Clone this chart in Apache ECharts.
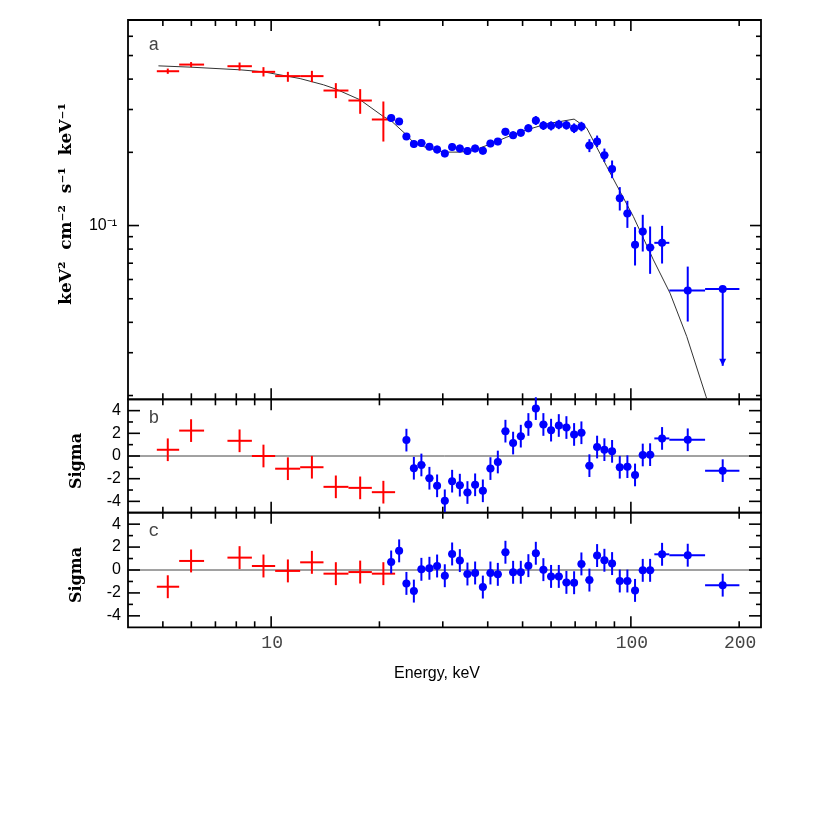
<!DOCTYPE html>
<html>
<head>
    <meta charset="utf-8">
    <title>Spectrum and residuals</title>
    <script src="https://cdn.jsdelivr.net/npm/echarts@6/dist/echarts.min.js"></script>
    <style>
        html, body { margin: 0; background: #fff; }
        #chart { width: 830px; height: 830px; }
    </style>
</head>
<body>
<div id="chart"></div>

<script>
    // axes
    const energyMin = 4.0, energyMax = 230;
    const energyMajorTicks = [10, 100];
    const energyMinorTicks = [5, 6, 7, 8, 9, 20, 30, 40, 50, 60, 70, 80, 90, 200];
    const energyTickValues = [10, 100, 200];
    const energyTickLabels = ['10', '100', '200'];

    const fluxMin = 0.0193, fluxMax = 0.70;
    const fluxMajorTicks = [0.1];
    const fluxMinorTicks = [0.02, 0.03, 0.04, 0.05, 0.06, 0.07, 0.08, 0.09, 0.2, 0.3, 0.4, 0.5, 0.6];
    const fluxTickValues = [0.1];
    const fluxTickLabels = ['10⁻¹'];

    const sigmaMin = -5, sigmaMax = 5;
    const sigmaMajorTicks = [-4, -2, 0, 2, 4];
    const sigmaMinorTicks = [-3, -1, 1, 3];
    const sigmaTickLabels = ['-4', '-2', '0', '2', '4'];

    // red (low energy) spectrum, keV
    const redE = [5.16, 5.99, 8.17, 9.52, 11.13, 12.98, 15.13, 17.68, 20.51];
    const redELo = [4.81, 5.55, 7.56, 8.84, 10.26, 12.04, 13.98, 16.40, 19.05];
    const redEHi = [5.55, 6.51, 8.84, 10.26, 12.04, 13.98, 16.40, 19.05, 22.11];
    const redFlux = [0.431, 0.459, 0.452, 0.4285, 0.4115, 0.4115, 0.359, 0.3266, 0.2729];
    const redFluxLo = [0.4205, 0.448, 0.434, 0.410, 0.390, 0.3887, 0.334, 0.288, 0.2215];
    const redFluxHi = [0.442, 0.470, 0.468, 0.448, 0.4285, 0.4326, 0.385, 0.3638, 0.3236];
    const redSigmaB = [0.55, 2.24, 1.34, 0.0, -1.12, -0.99, -2.72, -2.81, -3.19];
    const redSigmaC = [-1.46, 0.79, 1.08, 0.35, -0.08, 0.67, -0.32, -0.18, -0.32];

    // blue (high energy) spectrum, keV; bins are contiguous
    const blueEdges = [21.04, 22.11, 23.23, 24.34, 25.54, 26.85, 28.24, 29.65, 31.10, 32.63,
        34.28, 36.01, 37.81, 39.72, 41.69, 43.71, 45.92, 48.21, 50.65, 53.14,
        55.77, 58.59, 61.51, 64.62, 67.88, 71.17, 74.73, 78.61, 82.48, 86.54,
        90.86, 95.44, 100.3, 105.2, 110.4, 116.2, 127.9, 160.8, 200.3];
    const blueE = [21.56, 22.69, 23.77, 24.93, 26.16, 27.54, 28.93, 30.39, 31.85, 33.46,
        35.13, 36.90, 38.77, 40.70, 42.67, 44.80, 47.06, 49.43, 51.89, 54.42,
        57.12, 60.00, 63.04, 66.19, 69.53, 72.86, 76.69, 80.56, 84.41, 88.67,
        93.14, 97.79, 102.7, 107.9, 113.1, 122.1, 143.9, 180.0];
    const blueFlux = [0.2765, 0.2677, 0.2323, 0.2162, 0.2183, 0.2107, 0.2054, 0.1977, 0.2101, 0.2073,
        0.2023, 0.2073, 0.2029, 0.2174, 0.2215, 0.2428, 0.2353, 0.2405, 0.2514, 0.2703,
        0.2577, 0.2570, 0.2602, 0.2587, 0.2514, 0.2553, 0.2133, 0.2215, 0.1947, 0.1706,
        0.1296, 0.1120, 0.0833, 0.0945, 0.0812, 0.0849, 0.0540, 0.0548];
    const blueFluxLo = [0.267, 0.259, 0.225, 0.209, 0.211, 0.204, 0.198, 0.191, 0.203, 0.200,
        0.195, 0.200, 0.196, 0.210, 0.214, 0.234, 0.227, 0.232, 0.242, 0.259,
        0.247, 0.246, 0.249, 0.248, 0.240, 0.244, 0.2004, 0.2101, 0.1827, 0.1566,
        0.1153, 0.0978, 0.0685, 0.0782, 0.0633, 0.0698, 0.0403, 0.0265];
    const blueFluxHi = [0.286, 0.277, 0.240, 0.224, 0.226, 0.218, 0.213, 0.205, 0.218, 0.215,
        0.210, 0.215, 0.210, 0.225, 0.229, 0.252, 0.244, 0.249, 0.261, 0.282,
        0.269, 0.268, 0.272, 0.270, 0.263, 0.267, 0.2265, 0.2344, 0.2073, 0.1851,
        0.1439, 0.1264, 0.0985, 0.1107, 0.0991, 0.0997, 0.0678, 0.0548];
    const blueUpperLimits = [37]; // index of points drawn as upper limits
    const blueSigmaB = [null, null, 1.40, -1.08, -0.79, -1.96, -2.63, -3.95, -2.22, -2.57,
        -3.22, -2.54, -3.07, -1.11, -0.53, 2.19, 1.14, 1.75, 2.78, 4.18,
        2.78, 2.28, 2.69, 2.51, 1.90, 2.05, -0.85, 0.79, 0.56, 0.41,
        -0.99, -0.94, -1.67, 0.09, 0.12, 1.55, 1.43, -1.29];
    const blueSigmaC = [0.70, 1.67, -1.17, -1.84, 0.06, 0.15, 0.35, -0.50, 1.40, 0.82,
        -0.35, -0.26, -1.49, -0.26, -0.38, 1.55, -0.20, -0.20, 0.38, 1.46,
        0.03, -0.56, -0.56, -1.08, -1.11, 0.53, -0.88, 1.26, 0.85, 0.56,
        -0.96, -0.96, -1.78, -0.03, -0.03, 1.37, 1.29, -1.32];

    // model curve
    const modelE = [4.86, 5.955, 8.20, 9.52, 12.04, 13.98, 15.13, 17.68, 20.51, 21.56,
        23.77, 24.86, 26.51, 28.88, 30.45, 33.52, 36.50, 40.62, 45.20, 51.37,
        58.40, 69.53, 75.42, 85.70, 101.6, 115.5, 128.5, 143.0, 161.8, 172.6];
    const modelFlux = [0.4535, 0.448, 0.4368, 0.4285, 0.402, 0.379, 0.364, 0.3287, 0.2807, 0.2695,
        0.236, 0.2195, 0.2113, 0.2035, 0.2004, 0.2004, 0.2035, 0.2162, 0.2309, 0.2474,
        0.2619, 0.2739, 0.2514, 0.1748, 0.1089, 0.0723, 0.0527, 0.03497, 0.01981, 0.01473];

    const RED = '#ff0000';
    const BLUE = '#0000ff';
    const panelLetters = ['a', 'b', 'c'];

    const seg = (ax, ay, bx, by, color, w) => ({
        type: 'line',
        shape: { x1: ax, y1: ay, x2: bx, y2: by },
        style: { stroke: color, lineWidth: w }
    });

    // frame ticks, tick labels and panel letter for one panel
    const frameRenderer = (panel, yRef, yMajor, yMinor, yMajorLen, labelValues, labels, labelGap) =>
        (params, api) => {
            const cs = params.coordSys;
            const x0 = cs.x, x1 = cs.x + cs.width, y0 = cs.y, y1 = cs.y + cs.height;
            const kids = [];
            const tickX = (v, len) => {
                const x = api.coord([v, yRef])[0];
                kids.push(seg(x, y0, x, y0 + len, '#000', 1.6), seg(x, y1, x, y1 - len, '#000', 1.6));
            };
            const tickY = (v, len) => {
                const y = api.coord([energyMin, v])[1];
                kids.push(seg(x0, y, x0 + len, y, '#000', 1.6), seg(x1, y, x1 - len, y, '#000', 1.6));
            };
            energyMajorTicks.forEach(v => tickX(v, 11));
            energyMinorTicks.forEach(v => tickX(v, 6));
            yMajor.forEach(v => tickY(v, yMajorLen));
            yMinor.forEach(v => tickY(v, 5));
            labelValues.forEach((v, i) => {
                kids.push({
                    type: 'text', x: x0 - labelGap, y: api.coord([energyMin, v])[1],
                    style: { text: labels[i], font: '16px "Liberation Sans"', fill: '#000', align: 'right', verticalAlign: 'middle' }
                });
            });
            if (panel === 2) {
                energyTickValues.forEach((v, i) => {
                    kids.push({
                        type: 'text', x: api.coord([v, yRef])[0] + 1, y: y1 + 16,
                        style: { text: energyTickLabels[i], font: '18px "Liberation Mono"', fill: '#444', align: 'center', verticalAlign: 'middle' }
                    });
                });
            }
            kids.push({
                type: 'text', x: x0 + 26, y: y0 + (panel === 0 ? 25 : 19),
                style: { text: panelLetters[panel], font: '18px "Liberation Mono"', fill: '#444', align: 'center', verticalAlign: 'middle' }
            });
            return { type: 'group', children: kids };
        };

    // red cross in flux panel: [eLo, eHi, e, flux, fluxLo, fluxHi]
    const redCross = (params, api) => {
        const a = api.coord([api.value(0), api.value(3)]);
        const b = api.coord([api.value(1), api.value(3)]);
        const c = api.coord([api.value(2), api.value(4)]);
        const d = api.coord([api.value(2), api.value(5)]);
        return {
            type: 'group',
            children: [seg(a[0], a[1], b[0], b[1], RED, 2), seg(c[0], c[1], d[0], d[1], RED, 2)]
        };
    };

    // blue point in flux panel: [eLo, eHi, e, flux, fluxLo, fluxHi, upperLimit]
    const bluePoint = (params, api) => {
        const a = api.coord([api.value(0), api.value(3)]);
        const b = api.coord([api.value(1), api.value(3)]);
        const c = api.coord([api.value(2), api.value(4)]);
        const d = api.coord([api.value(2), api.value(5)]);
        const p = api.coord([api.value(2), api.value(3)]);
        const kids = [
            seg(a[0], a[1], b[0], b[1], BLUE, 2),
            seg(c[0], c[1], d[0], d[1], BLUE, 2),
            { type: 'circle', shape: { cx: p[0], cy: p[1], r: 4 }, style: { fill: BLUE } }
        ];
        if (api.value(6)) {
            kids.push({
                type: 'polygon',
                shape: { points: [[c[0] - 3.5, c[1] - 7], [c[0] + 3.5, c[1] - 7], [c[0], c[1]]] },
                style: { fill: BLUE }
            });
        }
        return { type: 'group', children: kids };
    };

    // residual with +-1 sigma bar: [eLo, eHi, e, sigma]
    const residual = (color, dot) => (params, api) => {
        const s = api.value(3);
        const a = api.coord([api.value(0), s]);
        const b = api.coord([api.value(1), s]);
        const c = api.coord([api.value(2), s - 1]);
        const d = api.coord([api.value(2), s + 1]);
        const p = api.coord([api.value(2), s]);
        const kids = [seg(a[0], a[1], b[0], b[1], color, 2), seg(c[0], c[1], d[0], d[1], color, 2)];
        if (dot) {
            kids.push({ type: 'circle', shape: { cx: p[0], cy: p[1], r: 4 }, style: { fill: color } });
        }
        return { type: 'group', children: kids };
    };

    const redFluxData = redE.map((e, i) => [redELo[i], redEHi[i], e, redFlux[i], redFluxLo[i], redFluxHi[i]]);
    const blueFluxData = blueE.map((e, i) => [blueEdges[i], blueEdges[i + 1], e, blueFlux[i],
        blueFluxLo[i], blueFluxHi[i], blueUpperLimits.includes(i) ? 1 : 0]);
    const redRes = sig => redE.map((e, i) => [redELo[i], redEHi[i], e, sig[i]]);
    const blueRes = sig => blueE.map((e, i) => [blueEdges[i], blueEdges[i + 1], e, sig[i]])
        .filter(d => d[3] !== null);

    const titleFont = 'bold 16px "DejaVu Serif"';
    const chart = echarts.init(document.getElementById('chart'));
    const gridStyle = { left: 128, width: 633, show: true, borderColor: '#000', borderWidth: 1.8, backgroundColor: 'transparent' };
    const option = {
        animation: false,
        backgroundColor: '#fff',
        grid: [
            Object.assign({ top: 20, height: 379.3 }, gridStyle),
            Object.assign({ top: 399.3, height: 113.4 }, gridStyle),
            Object.assign({ top: 512.7, height: 114.6 }, gridStyle)
        ],
        xAxis: [0, 1, 2].map(i => ({ type: 'log', gridIndex: i, min: energyMin, max: energyMax, show: false })),
        yAxis: [
            { type: 'log', gridIndex: 0, min: fluxMin, max: fluxMax, show: false },
            { type: 'value', gridIndex: 1, min: sigmaMin, max: sigmaMax, show: false },
            { type: 'value', gridIndex: 2, min: sigmaMin, max: sigmaMax, show: false }
        ],
        graphic: [
            {
                type: 'text', x: 67, y: 204, rotation: Math.PI / 2,
                style: { text: 'keV²  cm⁻²  s⁻¹  keV⁻¹', font: 'bold 17px "DejaVu Serif"', fill: '#000', align: 'center', verticalAlign: 'middle' }
            },
            {
                type: 'text', x: 77, y: 461, rotation: Math.PI / 2,
                style: { text: 'Sigma', font: titleFont, fill: '#000', align: 'center', verticalAlign: 'middle' }
            },
            {
                type: 'text', x: 77, y: 575, rotation: Math.PI / 2,
                style: { text: 'Sigma', font: titleFont, fill: '#000', align: 'center', verticalAlign: 'middle' }
            },
            {
                type: 'text', x: 437, y: 674,
                style: { text: 'Energy, keV', font: '16px "Liberation Sans"', fill: '#000', align: 'center', verticalAlign: 'middle' }
            }
        ],
        series: [
            {
                type: 'custom', xAxisIndex: 0, yAxisIndex: 0, data: [[energyMin, fluxMax]], silent: true, z: 5,
                renderItem: frameRenderer(0, fluxMax, fluxMajorTicks, fluxMinorTicks, 11, fluxTickValues, fluxTickLabels, 11)
            },
            {
                type: 'custom', xAxisIndex: 1, yAxisIndex: 1, data: [[energyMin, 0]], silent: true, z: 5,
                renderItem: frameRenderer(1, 0, sigmaMajorTicks, sigmaMinorTicks, 12, sigmaMajorTicks, sigmaTickLabels, 7)
            },
            {
                type: 'custom', xAxisIndex: 2, yAxisIndex: 2, data: [[energyMin, 0]], silent: true, z: 5,
                renderItem: frameRenderer(2, 0, sigmaMajorTicks, sigmaMinorTicks, 12, sigmaMajorTicks, sigmaTickLabels, 7)
            },
            {
                type: 'line', xAxisIndex: 0, yAxisIndex: 0, z: 2,
                data: modelE.map((e, i) => [e, modelFlux[i]]),
                showSymbol: false, symbol: 'none', clip: true, silent: true,
                lineStyle: { color: '#333', width: 1 }
            },
            { type: 'custom', xAxisIndex: 0, yAxisIndex: 0, z: 3, data: redFluxData, renderItem: redCross },
            { type: 'custom', xAxisIndex: 0, yAxisIndex: 0, z: 3, data: blueFluxData, renderItem: bluePoint },
            ...[1, 2].map(i => ({
                type: 'line', xAxisIndex: i, yAxisIndex: i, z: 2, silent: true, symbol: 'none',
                data: [[energyMin, 0], [energyMax, 0]],
                lineStyle: { color: '#444', width: 1 }
            })),
            { type: 'custom', xAxisIndex: 1, yAxisIndex: 1, z: 3, data: redRes(redSigmaB), renderItem: residual(RED, false) },
            { type: 'custom', xAxisIndex: 1, yAxisIndex: 1, z: 3, data: blueRes(blueSigmaB), renderItem: residual(BLUE, true) },
            { type: 'custom', xAxisIndex: 2, yAxisIndex: 2, z: 3, data: redRes(redSigmaC), renderItem: residual(RED, false) },
            { type: 'custom', xAxisIndex: 2, yAxisIndex: 2, z: 3, data: blueRes(blueSigmaC), renderItem: residual(BLUE, true) }
        ]
    };
    chart.setOption(option);
</script>
</body>
</html>
